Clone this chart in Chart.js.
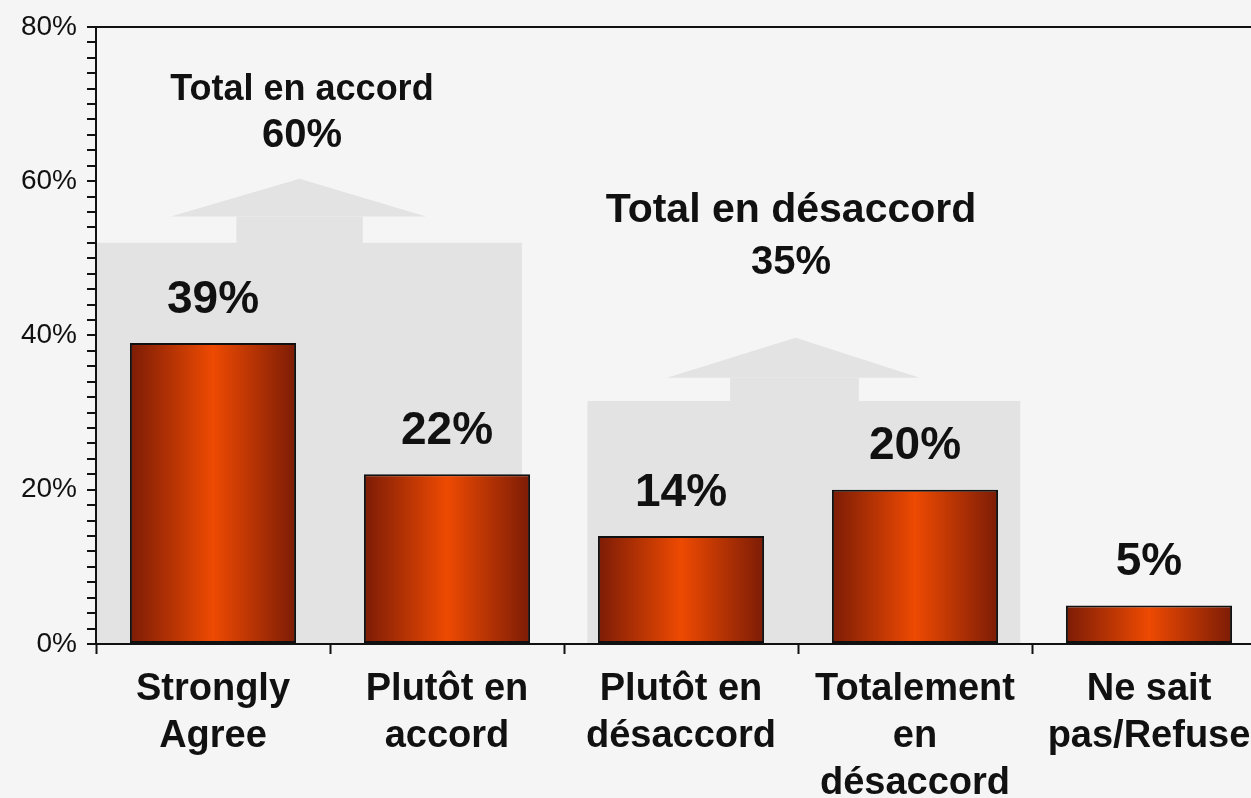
<!DOCTYPE html>
<html lang="fr">
<head>
<meta charset="utf-8">
<title>Total en accord / désaccord</title>
<script src="https://cdn.jsdelivr.net/npm/chart.js@4/dist/chart.umd.min.js"></script>
<style>
  html, body { margin: 0; padding: 0; background: #f5f5f5; overflow: hidden; }
  #wrap { position: relative; width: 1266px; height: 798px; }
</style>
</head>
<body>
<div id="wrap"><canvas id="chart"></canvas></div>
<script>
// ============================================================
// DATI
// ============================================================
const categories = [
  ["Strongly", "Agree"],
  ["Plutôt en", "accord"],
  ["Plutôt en", "désaccord"],
  ["Totalement", "en", "désaccord"],
  ["Ne sait", "pas/Refuse"]
];
const values = [39, 22, 14, 20, 5];
const yTicks = [0, 20, 40, 60, 80];

// groupes (unités : index de catégorie / %)
const groupTitles = [["Total en accord", "60%"], ["Total en désaccord", "35%"]];
const groupTitleAt = [[0.38, 71.8, 65.8], [2.47, 56.2, 49.4]];
const panelSpans = [[-0.5, 1.32], [1.60, 3.45]];
const panelTops = [52, 31.5];
const shaftSpans = [[0.10, 0.64], [2.21, 2.76]];
const headSpans = [[-0.18, 0.91], [1.94, 3.02]];
const headBases = [55.4, 34.5];
const headTips = [[0.37, 60.3], [2.49, 39.7]];

// ============================================================
// CONFIG
// ============================================================
const FONT = "'Liberation Sans', Arial, sans-serif";
const GREY = "#e3e3e3";
const BAR_PCT = 0.71;
const TITLE_SIZES = [36, 41];

// ============================================================
// PLUGIN : fonds gris + flèches
// ============================================================
const panelsPlugin = {
  id: "panels",
  beforeDraw(chart) {
    const { ctx, scales: { x, y }, chartArea } = chart;
    const px = v => x.left + (v + 0.5) * (x.width / categories.length);
    ctx.save();
    ctx.fillStyle = GREY;
    panelSpans.forEach((span, i) => {
      const left = Math.max(px(span[0]), chartArea.left + 1);
      const right = px(span[1]);
      const top = y.getPixelForValue(panelTops[i]);
      ctx.fillRect(left, top, right - left, chartArea.bottom - top);

      // flèche
      const base = y.getPixelForValue(headBases[i]);
      ctx.fillRect(px(shaftSpans[i][0]), base, px(shaftSpans[i][1]) - px(shaftSpans[i][0]), top - base + 1);
      ctx.beginPath();
      ctx.moveTo(px(headSpans[i][0]), base);
      ctx.lineTo(px(headTips[i][0]), y.getPixelForValue(headTips[i][1]));
      ctx.lineTo(px(headSpans[i][1]), base);
      ctx.closePath();
      ctx.fill();
    });
    ctx.restore();
  }
};

// ============================================================
// DÉGRADÉ DES BARRES
// ============================================================
function barGradient(c) {
  const x = c.chart.scales.x;
  if (!x || c.dataIndex === undefined) return "#e04402";
  const center = x.getPixelForValue(c.dataIndex);
  const half = (x.width / categories.length) * BAR_PCT / 2;
  if (!isFinite(center) || !isFinite(half) || half <= 0) return "#e04402";
  const g = c.chart.ctx.createLinearGradient(center - half, 0, center + half, 0);
  g.addColorStop(0, "#7c1c06");
  g.addColorStop(0.5, "#ee4a02");
  g.addColorStop(1, "#7c1c06");
  return g;
}

// ============================================================
// PLUGIN : étiquettes
// ============================================================
const labelsPlugin = {
  id: "labels",
  afterDatasetsDraw(chart) {
    const { ctx, scales: { x, y } } = chart;
    const px = v => x.left + (v + 0.5) * (x.width / categories.length);
    ctx.save();
    ctx.fillStyle = "#111";
    ctx.textAlign = "center";
    ctx.textBaseline = "middle";

    // valeurs
    ctx.font = "bold 46px " + FONT;
    chart.getDatasetMeta(0).data.forEach((bar, i) => {
      ctx.fillText(values[i] + "%", bar.x, bar.y - 43);
    });

    // totaux
    groupTitles.forEach((lines, i) => {
      const at = groupTitleAt[i];
      ctx.font = "bold " + TITLE_SIZES[i] + "px " + FONT;
      ctx.fillText(lines[0], px(at[0]), y.getPixelForValue(at[1]));
      ctx.font = "bold 40px " + FONT;
      ctx.fillText(lines[1], px(at[0]), y.getPixelForValue(at[2]));
    });
    ctx.restore();
  }
};

// ============================================================
// GRAFICO
// ============================================================
const ctx = document.getElementById("chart").getContext("2d");

new Chart(ctx, {
  type: "bar",
  data: {
    labels: categories,
    datasets: [
      {
        data: values,
        backgroundColor: barGradient,
        borderColor: "#111",
        borderWidth: 2,
        borderSkipped: false,
        categoryPercentage: 1,
        barPercentage: BAR_PCT
      }
    ]
  },
  options: {
    responsive: true,
    maintainAspectRatio: false,
    animation: false,
    layout: { padding: { top: 25, left: 0, right: 0, bottom: 0 } },
    plugins: {
      legend: { display: false },
      tooltip: { enabled: false }
    },
    scales: {
      x: {
        border: { display: true, color: "#111", width: 2 },
        grid: {
          offset: true,
          drawOnChartArea: false,
          tickColor: "#111",
          tickWidth: 2,
          tickLength: 10
        },
        ticks: {
          color: "#111",
          padding: 12,
          maxRotation: 0,
          autoSkip: false,
          font: { family: FONT, size: 38, weight: "bold", lineHeight: "47px" }
        },
        afterFit: scale => { scale.height = 154; }
      },
      y: {
        min: 0,
        max: 80,
        border: { display: true, color: "#111", width: 2 },
        grid: {
          color: c => (c.tick && c.tick.value === 80 ? "#111" : "transparent"),
          lineWidth: 2,
          tickColor: "#111",
          tickWidth: 2,
          tickLength: 9
        },
        ticks: {
          stepSize: 2,
          autoSkip: false,
          padding: 10,
          color: "#111",
          font: { family: FONT, size: 28 },
          callback: v => (yTicks.includes(v) ? v + "%" : "")
        },
        afterFit: scale => { scale.width = 96; }
      }
    }
  },
  plugins: [panelsPlugin, labelsPlugin]
});
</script>
</body>
</html>
